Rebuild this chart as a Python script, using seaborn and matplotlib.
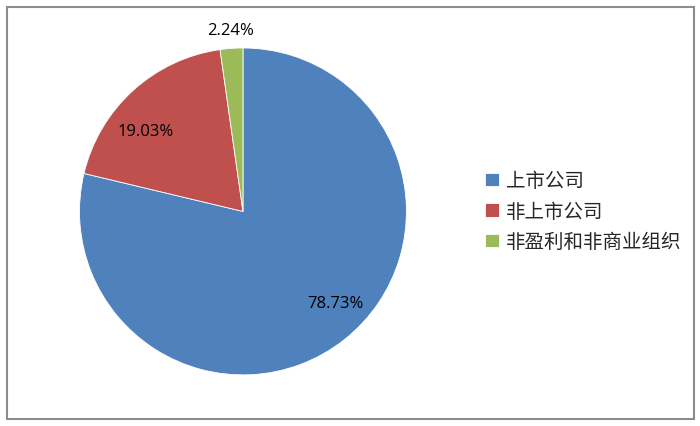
import matplotlib
import matplotlib.pyplot as plt
import seaborn as sns
import numpy as np
from matplotlib.patches import Rectangle

matplotlib.use('Agg')

categories = ['上市公司', '非上市公司', '非盈利和非商业组织']
shares = [78.73, 19.03, 2.24]
colors = ['#4F81BD', '#C0504D', '#9BBB59']
# label placement (distance from centre, angle in degrees), similar to Excel's best fit
label_pos = [(0.794, -44.7), (0.775, 140.5), (1.115, 94)]

sns.set_style('white')
plt.rcParams['font.family'] = ['Noto Sans CJK SC', 'DejaVu Sans']

fig = plt.figure(figsize=(7, 4.27), dpi=100)
ax = fig.add_axes([0.1136, 0.1195, 0.467, 0.766])

wedges, _ = ax.pie(shares, colors=colors, startangle=90, counterclock=False,
                   wedgeprops=dict(edgecolor='white', linewidth=0.6))
ax.set_aspect('equal')
ax.set_xlim(-1, 1)
ax.set_ylim(-1, 1)

for val, (d, ang) in zip(shares, label_pos):
    a = np.deg2rad(ang)
    ax.text(d * np.cos(a), d * np.sin(a), f"{val:.2f}%", ha='center', va='center',
            fontsize=12, color='black', family=['Open Sans', 'DejaVu Sans'])

fig.legend(wedges, categories, loc='center left', bbox_to_anchor=(0.668, 0.503),
           frameon=False, fontsize=14, handlelength=0.7, handleheight=0.7,
           handletextpad=0.35, labelspacing=0.49)

# grey border around the chart area
fig.patches.append(Rectangle((7 / 700, 7 / 427), 687 / 700, 412 / 427, transform=fig.transFigure,
                             fill=False, edgecolor='#8c8c8c', linewidth=1.5))

fig.savefig('out.png', dpi=100)
plt.close(fig)
